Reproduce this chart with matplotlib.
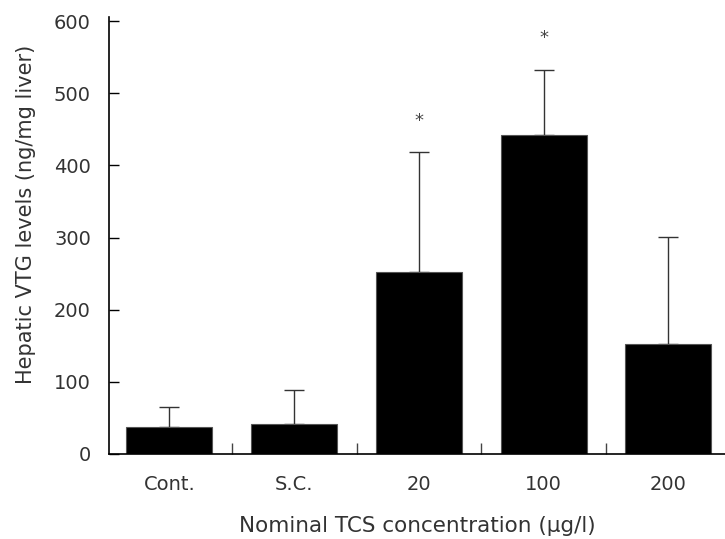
import matplotlib.pyplot as plt

# Hepatic VTG by nominal TCS concentration (mean, upper SD)
grupos = ["Cont.", "S.C.", "20", "100", "200"]
medias = [38, 42, 252, 442, 153]
desv = [27, 46, 166, 90, 148]
signif = [False, False, True, True, False]

plt.rcParams["font.family"] = ["DejaVu Sans"]

fig = plt.figure(figsize=(7.25, 5.39), dpi=100)
ax = fig.add_axes([0.1503, 0.1577, 0.8497, 0.8033])

pos = list(range(len(grupos)))
ax.bar(pos, medias, width=0.69, color="black", edgecolor="#555555", linewidth=0.8, zorder=2)
ax.errorbar(pos, medias, yerr=[[0] * len(desv), desv], fmt="none",
            ecolor="#333333", elinewidth=1.0, capsize=7, capthick=1.0, zorder=1)

# asteriscos de significancia sobre las barras de error
for x, m, s, sig in zip(pos, medias, desv, signif):
    if sig:
        ax.text(x, m + s + 44, "*", ha="center", va="center", fontsize=13, color="#444444")

ax.set_xlim(-0.485, 4.455)
ax.set_ylim(0, 600)
ax.set_xticks(pos)
ax.set_xticklabels(grupos, fontsize=14, color="#333333")
ax.set_xticks([0.5, 1.5, 2.5, 3.5], minor=True)
ax.tick_params(axis="x", which="major", length=0, pad=15)
ax.tick_params(axis="x", which="minor", direction="in", length=8, width=1.0, color="#444444")
ax.set_yticks(range(0, 601, 100))
ax.tick_params(axis="y", direction="in", length=7, width=1.0, labelsize=14,
               labelcolor="#333333", pad=13)

for lado in ["top", "right"]:
    ax.spines[lado].set_visible(False)
ax.spines["left"].set_linewidth(1.2)
ax.spines["bottom"].set_linewidth(1.2)
ax.spines["left"].set_bounds(0, 605)

ax.set_xlabel("Nominal TCS concentration (µg/l)", fontsize=15.5, color="#333333", labelpad=16)
ax.set_ylabel("Hepatic VTG levels (ng/mg liver)", fontsize=15, color="#333333")
ax.yaxis.set_label_coords(-0.119, 0.554)

plt.savefig("out.png", dpi=100)
